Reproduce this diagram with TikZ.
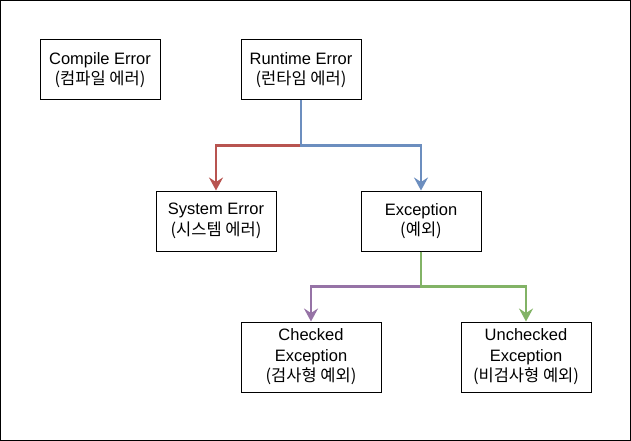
\documentclass[tikz,border=0pt]{standalone}
\usepackage{fontspec}
\setmainfont{Liberation Sans}
\newfontfamily\krfont{Noto Sans CJK KR}
\usetikzlibrary{positioning, arrows.meta}
\definecolor{errred}{HTML}{B85450}
\definecolor{errblue}{HTML}{6C8EBF}
\definecolor{errgreen}{HTML}{82B366}
\definecolor{errpurple}{HTML}{9673A6}
\tikzset{
    box/.style={rectangle, draw=black, line width=1pt, minimum width=120pt, minimum height=60pt, inner sep=0pt, align=center, font=\fontsize{16.5}{20.5}\selectfont},
    link/.style={line width=2.6pt, -{Stealth[length=13pt, width=14pt, inset=4.5pt]}},
}

\begin{document}
\begin{tikzpicture}[x=1pt, y=-1pt]
            \useasboundingbox (0,0) rectangle (631,441);
            \draw[line width=1pt] (0.5,0.5) rectangle (630.5,440.5);
            \node [box] (compile) at (100,70) {Compile Error\\{\krfont (컴파일 에러)}};
            \node [box] (runtime) [right = 80pt of compile] {Runtime Error\\{\krfont (런타임 에러)}};
            \node [box] (system) [below = 90pt of runtime, xshift=-85pt] {System Error\\{\krfont (시스템 에러)}};
            \node [box] (exception) [below = 90pt of runtime, xshift=120pt] {Exception\\{\krfont (예외)}};
            \node [box, minimum width=140pt, minimum height=70pt] (checked) [below = 70pt of exception, xshift=-110pt] {Checked\\Exception\\{\krfont (검사형 예외)}};
            \node [box, minimum width=130pt, minimum height=70pt] (unchecked) [below = 70pt of exception, xshift=105pt] {Unchecked\\Exception\\{\krfont (비검사형 예외)}};
            \draw[link, errred] (runtime.south) -- ++(0,45) -| (system.north);
            \draw[link, errblue] (runtime.south) -- ++(0,45) -| (exception.north);
            \draw[link, errpurple] (exception.south) -- ++(0,35) -| (checked.north);
            \draw[link, errgreen] (exception.south) -- ++(0,35) -| (unchecked.north);
        \end{tikzpicture}
\end{document}
